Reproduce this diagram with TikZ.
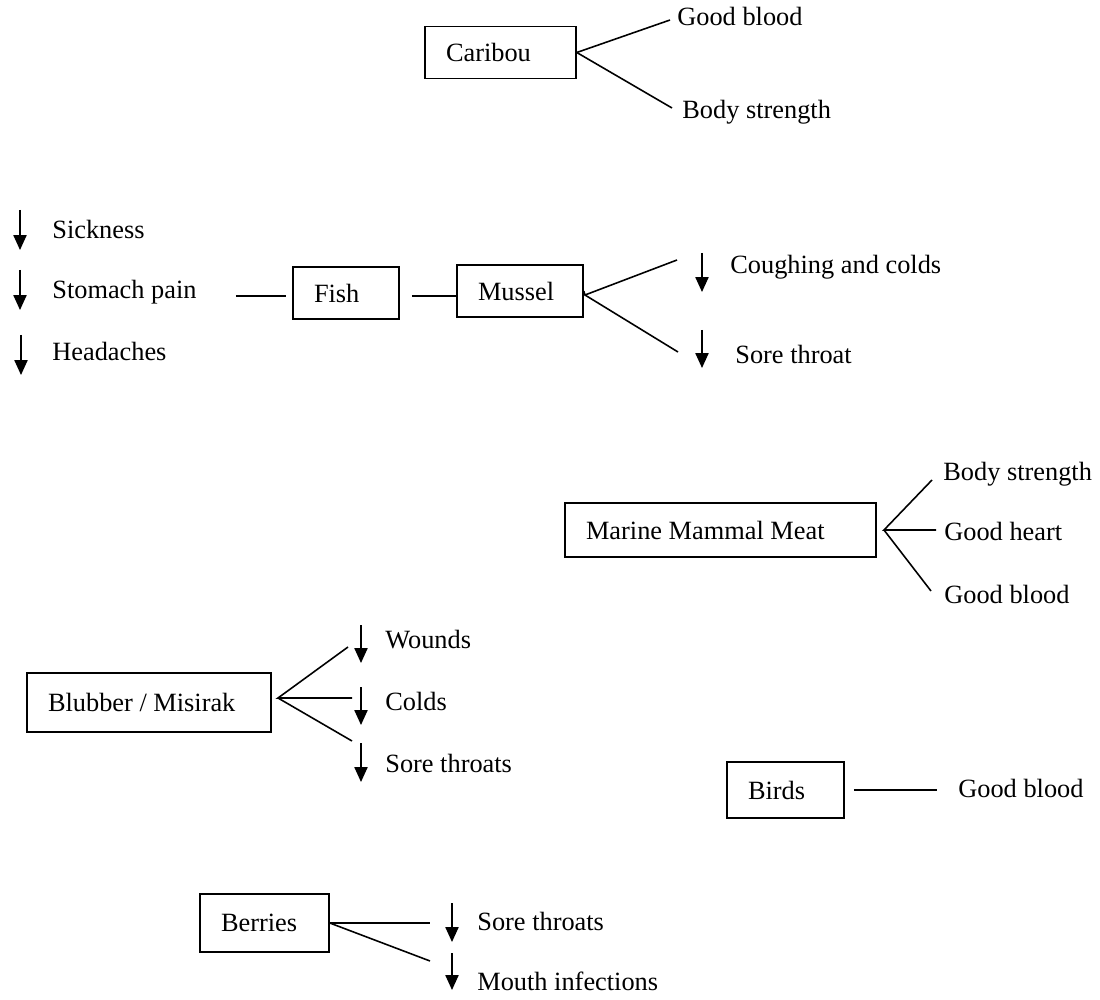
\documentclass[tikz,border=0pt]{standalone}
\usepackage{fontspec}
\setmainfont{Liberation Serif}
\usepackage{tikz}
\usetikzlibrary{arrows.meta}
\tikzset{
    food/.style={ draw, line width=0.9pt, inner xsep=0.42cm, inner ysep=0pt, align=flush left, minimum height=1.04cm },
    effect/.style={ anchor=west, inner sep=0pt, text height=0.66em, text depth=0pt },
    branch/.style={ line width=0.9pt },
    downarr/.style={ line width=0.9pt, -{Triangle[length=8.5pt, width=7.5pt]} }
}

\begin{document}
\begin{tikzpicture}[x=0.02cm, y=-0.02cm, font=\fontsize{15}{18}\selectfont]
        \useasboundingbox (0,0) rectangle (1100,1000);

        % caribou
        \node[food, text width=2.18cm] (caribou) at (500.5,52.5) {Caribou};
        \node[effect] (caribougood) at (677,20) {Good blood};
        \node[effect] (cariboustrong) at (682,113) {Body strength};
        \coordinate (cb1) at (670,20);
        \coordinate (cb2) at (672,108);
        \draw[branch] (caribou.east) -- (cb1);
        \draw[branch] (caribou.east) -- (cb2);

        % fish and mussel
        \node[effect] (sick) at (52,233) {Sickness};
        \node[effect] (stomach) at (52,293) {Stomach pain};
        \node[effect] (head) at (52,355) {Headaches};
        \draw[downarr] (20,210) -- (20,250);
        \draw[downarr] (20,270) -- (20,310);
        \draw[downarr] (21,335) -- (21,375);

        \node[food, text width=1.28cm] (fish) at (346,293) {Fish};
        \node[food, text width=1.68cm] (mussel) at (520,291) {Mussel};
        \draw[branch, shorten <=0.78cm, shorten >=0.12cm] (stomach.east |- 0,296) -- (fish.west |- 0,296);
        \draw[branch, shorten <=0.24cm] (fish.east |- 0,296) -- (mussel.west |- 0,296);

        \coordinate (muhub) at (585,295);
        \coordinate (mu1) at (677,260);
        \coordinate (mu2) at (678,352);
        \draw[branch] (mussel.east) -- (muhub) -- (mu1);
        \draw[branch] (muhub) -- (mu2);
        \node[effect] (cough) at (730,268) {Coughing and colds};
        \node[effect] (sore) at (735,358) {Sore throat};
        \draw[downarr] (702,253) -- (702,292);
        \draw[downarr] (702,330) -- (702,368);

        % marine mammal meat
        \node[food, text width=5.38cm, minimum height=1.08cm] (marine) at (720.5,530) {Marine Mammal Meat};
        \node[effect] (marinestrong) at (943,475) {Body strength};
        \node[effect] (marineheart) at (944,535) {Good heart};
        \node[effect] (marinegood) at (944,598) {Good blood};
        \coordinate (mmhub) at (884,530);
        \coordinate (mm1) at (932,480);
        \coordinate (mm2) at (936,530);
        \coordinate (mm3) at (931,591);
        \draw[branch] (mm1) -- (mmhub) -- (mm2);
        \draw[branch] (mmhub) -- (mm3);

        % blubber
        \node[food, text width=4.04cm, minimum height=1.18cm] (blubber) at (149,702.5) {Blubber / Misirak};
        \node[effect] (wounds) at (385,643) {Wounds};
        \node[effect] (colds) at (385,705) {Colds};
        \node[effect] (sores) at (385,767) {Sore throats};
        \coordinate (blhub) at (278,698);
        \coordinate (bl1) at (348,647);
        \coordinate (bl2) at (352,698);
        \coordinate (bl3) at (352,741);
        \draw[branch] (bl1) -- (blhub) -- (bl2);
        \draw[branch] (blhub) -- (bl3);
        \foreach \ya/\yb in {625/663, 687/725, 743/782}
            \draw[downarr] (361,\ya) -- (361,\yb);

        % birds
        \node[food, text width=1.5cm, minimum height=1.12cm] (birds) at (785.5,790) {Birds};
        \node[effect] (birdsgood) at (958,792) {Good blood};
        \draw[branch, shorten <=0.18cm, shorten >=0.42cm] (birds.east) -- (birds.east -| birdsgood.west);

        % berries
        \node[food, text width=1.74cm, minimum height=1.16cm] (berries) at (264.5,923) {Berries};
        \node[effect] (berrysore) at (477,925) {Sore throats};
        \node[effect] (mouth) at (477,985) {Mouth infections};
        \coordinate (be1) at (430,923);
        \coordinate (be2) at (430,961);
        \draw[branch] (berries.east) -- (be1);
        \draw[branch] (berries.east) -- (be2);
        \draw[downarr] (452,903) -- (452,942);
        \draw[downarr] (452,953) -- (452,990);

    \end{tikzpicture}
\end{document}
